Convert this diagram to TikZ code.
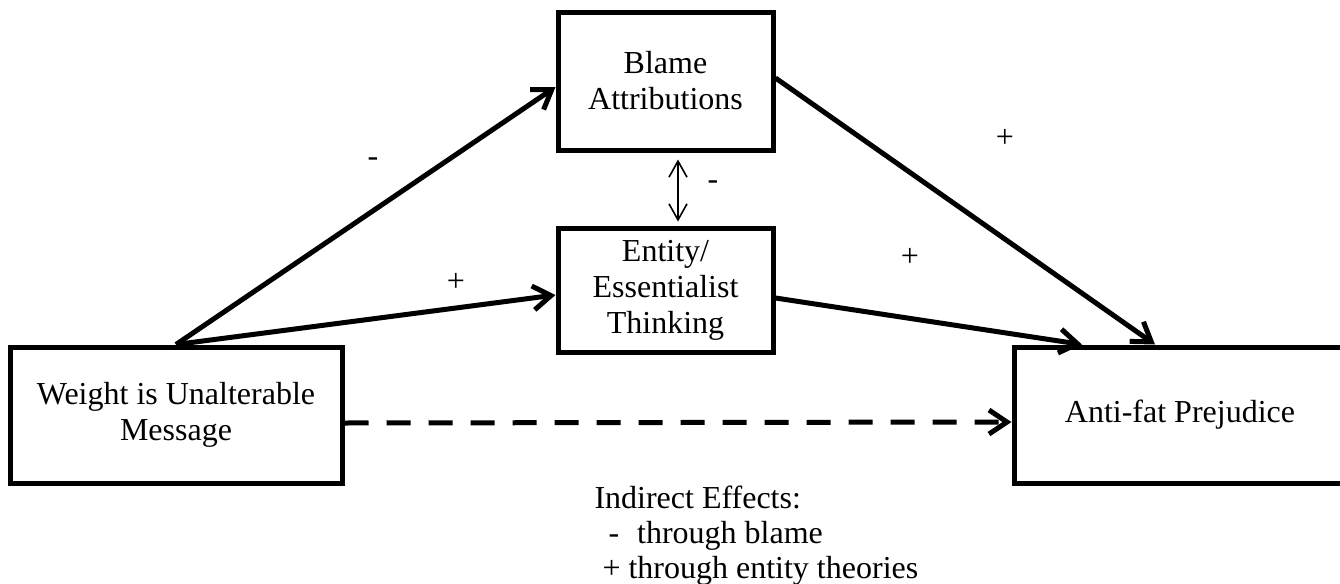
\documentclass[tikz,border=0pt]{standalone}
\usepackage{fontspec}
\setmainfont{Liberation Serif}
\usetikzlibrary{arrows.meta}
\tikzset{fig/.style={x=.5pt,y=-.5pt,line width=2.5pt,font=\fontsize{16}{18}\selectfont,
    >={Straight Barb[length=9pt,width=12pt]}},
  box/.style={draw,rectangle,align=center,inner sep=0pt},
  twoway/.style={line width=.8pt,<->,>={Straight Barb[length=8pt,width=9pt]}}}

\begin{document}
\begin{tikzpicture}[fig]
  \useasboundingbox (0,0) rectangle (1340,584);
  \node[box,minimum width=166pt,minimum height=68pt] (weight) at (176,415) {Weight is Unalterable\\Message};
  \node[box,minimum width=107.5pt,minimum height=69pt] (blame) at (665.5,81) {Blame\\Attributions};
  \node[box,minimum width=107.5pt,minimum height=62pt] (entity) at (665.5,290) {Entity/\\Essentialist\\Thinking};
  \node[box,minimum width=166pt,minimum height=68pt] (antifat) at (1180,415) {Anti-fat Prejudice};
  \draw[->] (weight.north) -- ([yshift=-3pt]blame.west);
  \draw[->] (weight.north) -- ([yshift=-2.5pt]entity.west);
  \draw[->] ([yshift=1.5pt]blame.east) -- ([xshift=-12.5pt]antifat.north);
  \draw[->] ([yshift=-4pt]entity.east) -- ([xshift=-49pt]antifat.north);
  \draw[->,dash pattern=on 12pt off 9pt] ([yshift=-4pt]weight.east) -- ([yshift=-3.5pt]antifat.west);
  \draw[twoway,shorten <=3.5pt,shorten >=2pt] ([xshift=6.25pt]blame.south) -- ([xshift=6.25pt]entity.north);
  % signs on the paths
  \node (sBW) at (373,162) {-};
  \node (sWE) at (456,282) {+};
  \node (sBE) at (713,185) {-};
  \node (sBA) at (1005,138) {+};
  \node (sEA) at (910,257) {+};
  \node[align=left,anchor=north west,inner sep=0pt,font=\fontsize{16}{17.5}\selectfont] (note) at (592,483)
    {Indirect Effects:\\\hspace{7pt}-\hspace{9pt}through blame\\\hspace{4pt}+ through entity theories};
\end{tikzpicture}
\end{document}
